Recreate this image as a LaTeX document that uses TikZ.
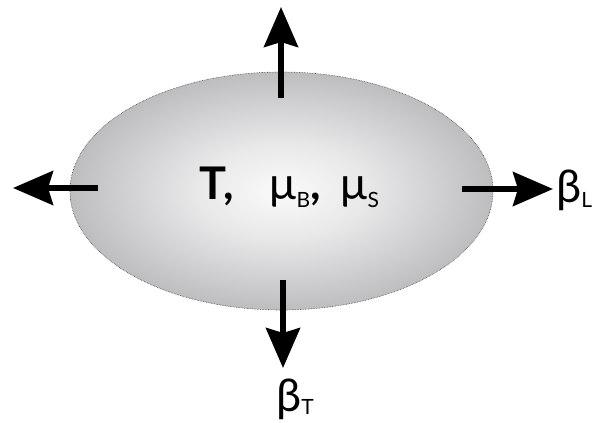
\documentclass[tikz,border=0pt]{standalone}
\usepackage{fontspec}
\setmainfont{Lato}
\usetikzlibrary{shapes.geometric,arrows.meta,positioning}

\definecolor{glowcore}{HTML}{FAFAFA}
\definecolor{glowmid}{HTML}{E8E8E9}
\definecolor{glowrim}{HTML}{A0A1A4}
\pgfdeclareradialshading{fireglow}{\pgfpoint{0bp}{0bp}}{color(0bp)=(glowcore); color(10bp)=(glowmid); color(35bp)=(glowrim); color(50bp)=(glowrim)}
\newcommand{\lowtag}[2][8pt]{\raisebox{-#1}{\fontsize{21}{22}\selectfont #2}}

\begin{document}
\begin{tikzpicture}[x=1pt, y=-1pt,
    flow/.style={line width=5.5pt, -{Stealth[length=40pt, width=34pt, inset=5pt]}},
    tag/.style={inner sep=0pt, font=\fontsize{45}{47}\selectfont}]
    \useasboundingbox (0,0) rectangle (592,423);

    \node[ellipse, inner sep=0pt, minimum width=423pt, minimum height=238pt,
          shading=fireglow, draw=black!75, densely dotted, line width=0.6pt] (fireball) at (281.5,191) {};
    \node[tag, anchor=base west] (params) at (199,199)
        {\textbf{T,}\hspace{36pt}μ\lowtag{B}\textbf{,}\hspace{20pt}μ\lowtag{S}};

    % flow directions
    \coordinate (up0) at (281,98);   \coordinate (up1) at (281,7);
    \coordinate (dn0) at (283,280);  \coordinate (dn1) at (283,368);
    \coordinate (lf0) at (98,188);   \coordinate (lf1) at (13,188);
    \coordinate (rt0) at (462,189);  \coordinate (rt1) at (553,189);

    \node[tag, anchor=base west] (betaL) at (556,202) {β\lowtag[5pt]{L}};
    \node[tag, anchor=base west] (betaT) at (276,411) {β\lowtag[3pt]{T}};

    \draw[flow] (up0) -- (up1);
    \draw[flow] (dn0) -- (dn1);
    \draw[flow] (lf0) -- (lf1);
    \draw[flow] (rt0) -- (rt1);
\end{tikzpicture}
\end{document}
